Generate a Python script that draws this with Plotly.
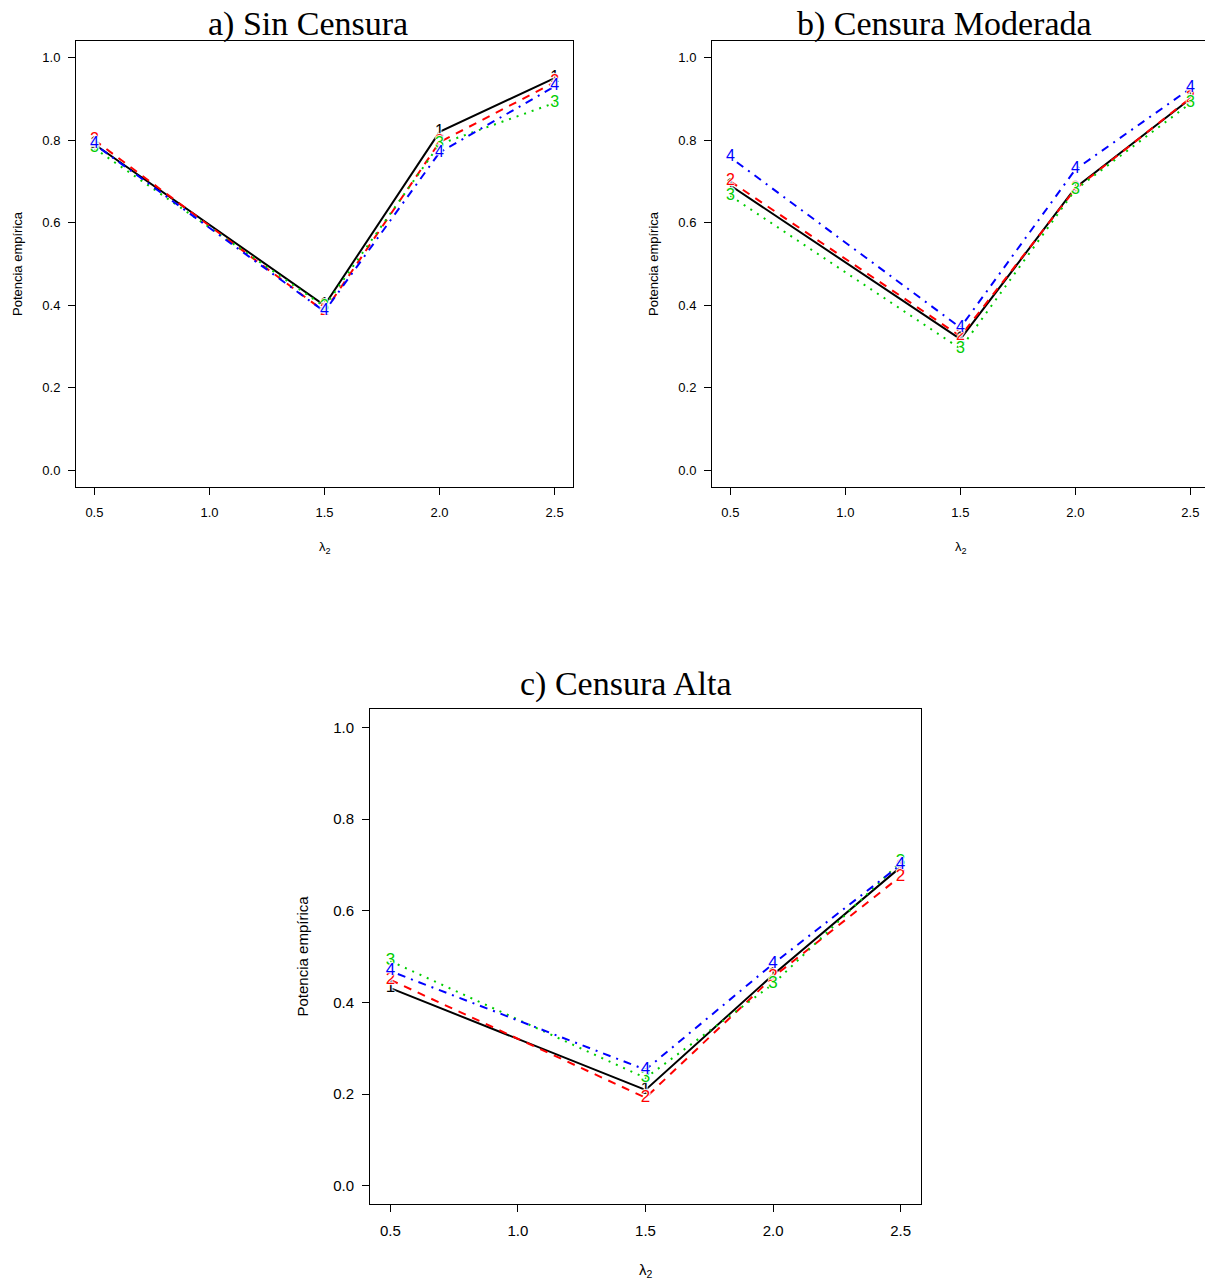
import plotly.graph_objects as go

# Valores de lambda_2 evaluados
lambda2 = [0.5, 1.5, 2.0, 2.5]

# Potencia empírica por método (1-4) en cada escenario de censura
sin_censura_1 = [0.790, 0.400, 0.820, 0.950]
sin_censura_2 = [0.800, 0.385, 0.795, 0.940]
sin_censura_3 = [0.780, 0.397, 0.790, 0.890]
sin_censura_4 = [0.790, 0.385, 0.770, 0.930]

moderada_1 = [0.690, 0.318, 0.685, 0.900]
moderada_2 = [0.700, 0.325, 0.682, 0.902]
moderada_3 = [0.665, 0.295, 0.680, 0.889]
moderada_4 = [0.758, 0.346, 0.729, 0.925]

alta_1 = [0.431, 0.209, 0.460, 0.695]
alta_2 = [0.449, 0.192, 0.455, 0.675]
alta_3 = [0.490, 0.235, 0.440, 0.706]
alta_4 = [0.468, 0.253, 0.484, 0.700]

x_ticks = [0.5, 1.0, 1.5, 2.0, 2.5]
y_ticks = [0.0, 0.2, 0.4, 0.6, 0.8, 1.0]

titles = ["a) Sin Censura", "b) Censura Moderada", "c) Censura Alta"]
y_title = "Potencia empírica"
x_title = "λ<sub>2</sub>"

panels = [
    [sin_censura_1, sin_censura_2, sin_censura_3, sin_censura_4],
    [moderada_1, moderada_2, moderada_3, moderada_4],
    [alta_1, alta_2, alta_3, alta_4],
]

colors = ["#000000", "#FF0000", "#00CD00", "#0000FF"]
dashes = ["solid", "8px,7px", "2px,6px", "2px,6px,8px,6px"]
labels = ["1", "2", "3", "4"]

# thin white halo around the point numbers so lines break around them
halo = "1px 0 1px #fff, -1px 0 1px #fff, 0 1px 1px #fff, 0 -1px 1px #fff"

W, H = 1205, 1282


def px_x(p):
    return p / W


def px_y(p):
    return 1 - p / H


fig = go.Figure()

# Panel geometry in pixels: (left, right, top, bottom)
boxes = [(76, 573, 41, 487), (712, 1205, 41, 487), (370, 921, 709, 1204)]
x_ranges = [[0.42, 2.58], [0.42, 0.42 + (1205 - 712) / 230.0], [0.42, 2.58]]
tick_font = [13, 13, 15]
num_font = [16, 16, 17]
title_pos = [(308, 24), (944, 24), (626, 684)]
ylab_x = [17, 653, 302]
xlab_y = [547, 547, 1270]

for i, series in enumerate(panels):
    ax = "" if i == 0 else str(i + 1)
    # lines first
    for j, vals in enumerate(series):
        fig.add_trace(go.Scatter(
            x=lambda2, y=vals, mode="lines",
            line=dict(color=colors[j], width=2, dash=dashes[j]),
            xaxis="x" + ax, yaxis="y" + ax, showlegend=False, hoverinfo="skip",
        ))
    # then the numbered points
    for j, vals in enumerate(series):
        fig.add_trace(go.Scatter(
            x=lambda2, y=vals, mode="text",
            text=[labels[j]] * len(vals), textposition="middle center",
            textfont=dict(family="Liberation Sans", size=num_font[i], color=colors[j],
                          shadow=halo),
            xaxis="x" + ax, yaxis="y" + ax, showlegend=False, hoverinfo="skip",
        ))

    l, r, t, b = boxes[i]
    mirror_y = i != 1
    common = dict(showgrid=False, zeroline=False, showline=True, linecolor="#000000",
                  linewidth=1, ticks="outside", ticklen=7, tickcolor="#000000",
                  tickfont=dict(family="Liberation Sans", size=tick_font[i], color="#000000"))
    fig.update_layout(**{
        "xaxis" + ax: dict(domain=[px_x(l), min(px_x(r), 1.0)], range=x_ranges[i],
                           tickvals=x_ticks, ticktext=[f"{v:.1f}" for v in x_ticks],
                           anchor="y" + ax, mirror=True, ticklabelstandoff=6, **common),
        "yaxis" + ax: dict(domain=[px_y(b), px_y(t)], range=[-0.04, 1.04],
                           tickvals=y_ticks, ticktext=[f"{v:.1f}" for v in y_ticks],
                           anchor="x" + ax, mirror=mirror_y, ticklabelstandoff=5, **common),
    })

    tx, ty = title_pos[i]
    fig.add_annotation(text=titles[i], x=px_x(tx), y=px_y(ty), xref="paper", yref="paper",
                       showarrow=False, xanchor="center", yanchor="middle",
                       font=dict(family="Liberation Serif", size=34, color="#000000"))
    fig.add_annotation(text=y_title, x=px_x(ylab_x[i]), y=px_y((t + b) / 2),
                       xref="paper", yref="paper", showarrow=False, textangle=-90,
                       xanchor="center", yanchor="middle",
                       font=dict(family="Liberation Sans", size=tick_font[i], color="#000000"))
    fig.add_annotation(text=x_title, x=px_x((l + (r if i != 1 else 1210)) / 2), y=px_y(xlab_y[i]),
                       xref="paper", yref="paper", showarrow=False,
                       xanchor="center", yanchor="middle",
                       font=dict(family="Liberation Sans", size=tick_font[i], color="#000000"))

fig.update_layout(width=W, height=H, margin=dict(l=0, r=0, t=0, b=0),
                  paper_bgcolor="white", plot_bgcolor="white")

fig.write_html("out.html")
